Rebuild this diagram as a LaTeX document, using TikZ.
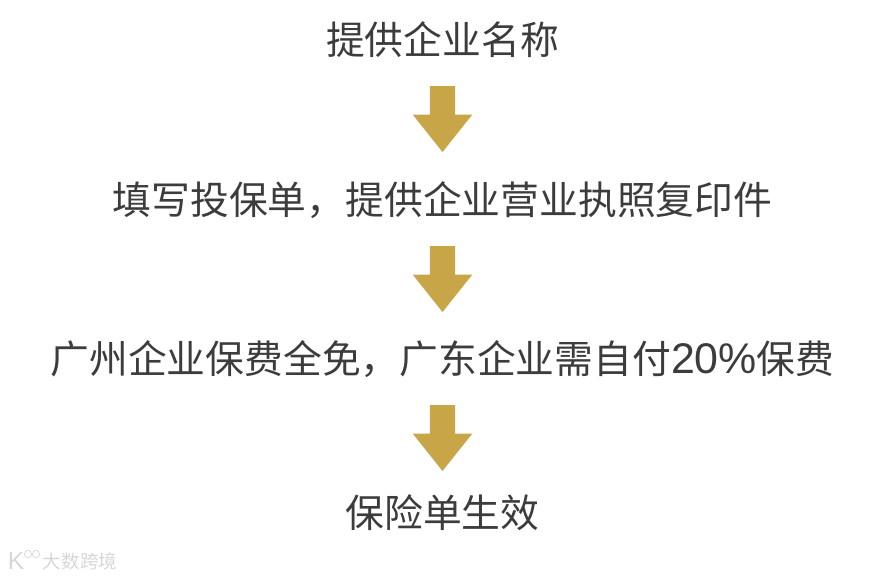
\documentclass[tikz,border=0pt]{standalone}
\usepackage{fontspec}
\usepackage{tikz}
\usetikzlibrary{shapes.arrows}
\setmainfont{Noto Sans CJK SC}
\newfontfamily\digitfont{Liberation Sans}

\definecolor{gold}{RGB}{200,165,70}
\definecolor{textgray}{RGB}{60,60,60}
\definecolor{markgray}{RGB}{215,215,215}

\tikzset{
	steptext/.style={text=textgray,inner sep=0pt,font=\fontsize{33.1pt}{36pt}\selectfont},
	goldarrow/.style={single arrow,fill=gold,inner sep=0.375cm,shape border rotate=270,
		minimum height=1.98cm,minimum width=1.77cm,
		single arrow head extend=0.51cm,single arrow tip angle=77},
	marktext/.style={text=markgray,inner sep=0pt,font=\fontsize{15.8pt}{18pt}\selectfont},
	markring/.style={draw=markgray,circle,inner sep=0pt,minimum size=0.22cm,line width=0.6pt}
}

\begin{document}
\begin{tikzpicture}[x=0.03cm,y=-0.03cm]
	\useasboundingbox (0,0) rectangle (885,577);
	
	% feliratok
	\node[steptext] (name) at (442.5,40) {提供企业名称};
	\node[steptext] (form) at (442.5,200) {填写投保单，提供企业营业执照复印件};
	\node[steptext] (fee) at (442.5,359) {广州企业保费全免，广东企业需自付{\digitfont\fontsize{36.6pt}{36pt}\selectfont 20\%}保费};
	\node[steptext] (done) at (442.5,513) {保险单生效};
	
	% nyilak
	\node[goldarrow] (arrowa) at (442.5,111) {};
	\node[goldarrow] (arrowb) at (442.5,271) {};
	\node[goldarrow] (arrowc) at (442.5,430) {};
	
	% vízjel
	\node[marktext] (mark) at (80,561) {大数跨境};
	\node[marktext,font=\digitfont\fontsize{21pt}{21pt}\selectfont] (logo) at (16,561) {K};
	\node[markring] (ringa) at (28,554) {};
	\node[markring] (ringb) at (36,554) {};
\end{tikzpicture}
\end{document}
